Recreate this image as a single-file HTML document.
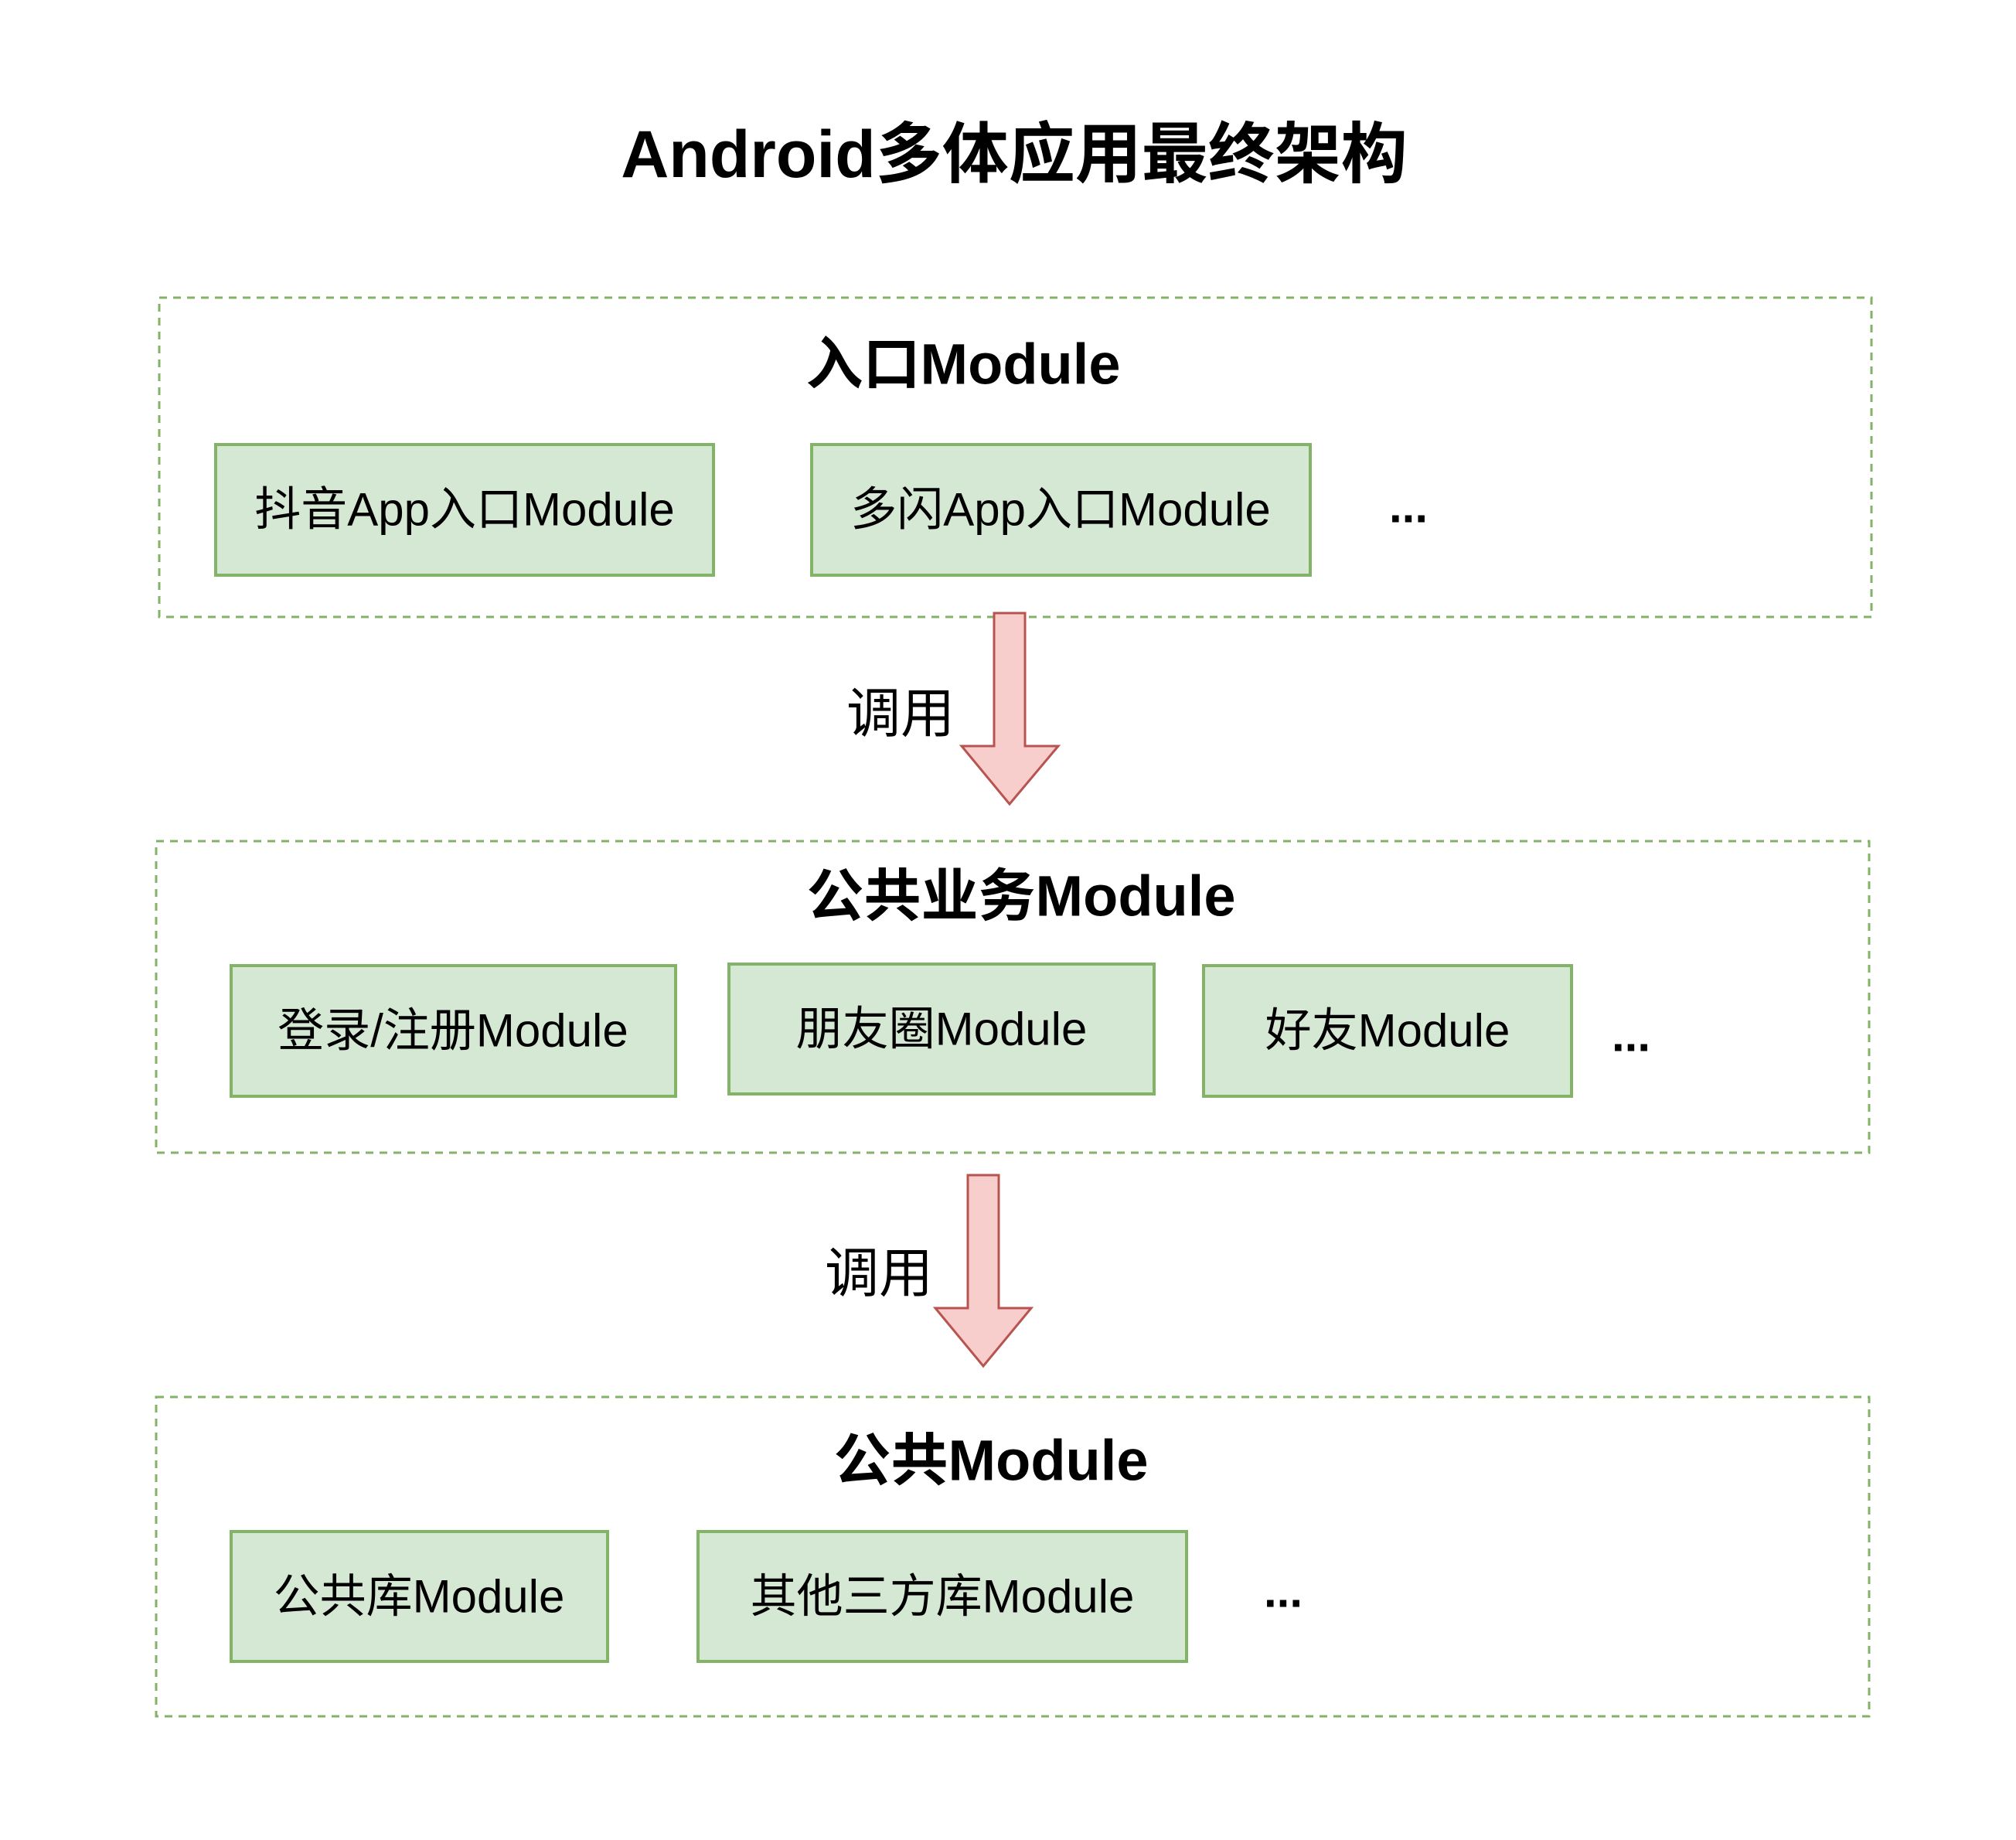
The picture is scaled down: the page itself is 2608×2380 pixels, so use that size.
<!DOCTYPE html>
<html><head><meta charset="utf-8"><style>html,body{margin:0;padding:0;background:#fff}svg{display:block}</style></head>
<body>
<svg width="2608" height="2380" viewBox="0 0 2608 2380" xmlns="http://www.w3.org/2000/svg" font-family="'Liberation Sans','Noto Sans CJK SC',sans-serif">
<rect width="2608" height="2380" fill="#fff"/>
<text x="1312" y="200" font-size="86" font-weight="bold" text-anchor="middle" dominant-baseline="central" fill="#000">Android多体应用最终架构</text>
<g fill="none" stroke="#82b366" stroke-width="3" stroke-dasharray="10 8">
<rect x="206" y="385" width="2215" height="413"/>
<rect x="202" y="1088" width="2216" height="403"/>
<rect x="202" y="1807" width="2216" height="413"/>
</g>
<g font-weight="bold" font-size="74" text-anchor="middle" dominant-baseline="central" fill="#000">
<text x="1246" y="471">入口Module</text>
<text x="1321" y="1159">公共业务Module</text>
<text x="1282" y="1889">公共Module</text>
</g>
<g fill="#d5e8d4" stroke="#82b366" stroke-width="4">
<rect x="279" y="575" width="644" height="169"/>
<rect x="1050" y="575" width="645" height="169"/>
<rect x="299" y="1249" width="575" height="169"/>
<rect x="943" y="1247" width="550" height="168"/>
<rect x="1557" y="1249" width="476" height="169"/>
<rect x="299" y="1981" width="487" height="168"/>
<rect x="903" y="1981" width="632" height="168"/>
</g>
<g font-size="60" text-anchor="middle" dominant-baseline="central" fill="#000">
<text x="601" y="659">抖音App入口Module</text>
<text x="1372" y="659">多闪App入口Module</text>
<text x="586" y="1333">登录/注册Module</text>
<text x="1218" y="1331">朋友圈Module</text>
<text x="1795" y="1333">好友Module</text>
<text x="542" y="2065">公共库Module</text>
<text x="1219" y="2065">其他三方库Module</text>
<text x="1165" y="923" font-size="70">调用</text>
<text x="1137" y="1647" font-size="70">调用</text>
</g>
<g font-size="60" font-weight="bold" text-anchor="middle" dominant-baseline="central" fill="#000">
<text x="1822" y="655">...</text>
<text x="2110" y="1339">...</text>
<text x="1660" y="2058">...</text>
</g>
<g fill="#f8cecc" stroke="#b85450" stroke-width="3">
<path d="M1286 793 H1326 V965 H1369 L1306 1040 L1244 965 H1286 Z"/>
<path d="M1252 1520 H1292 V1692 H1334 L1272 1767 L1210 1692 H1252 Z"/>
</g>
</svg>
</body></html>
